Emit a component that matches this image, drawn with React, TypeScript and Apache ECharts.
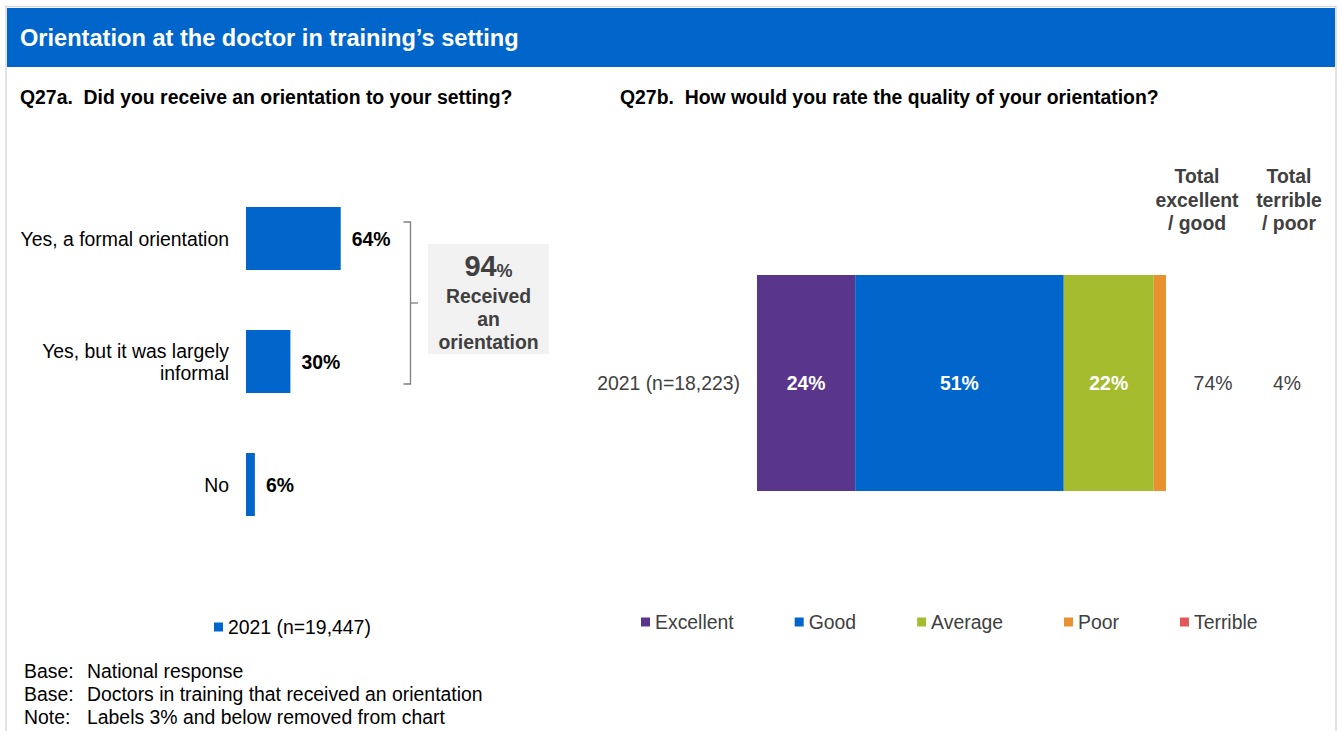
import React, { useEffect, useRef } from 'react';
import * as echarts from 'echarts';

// ---------- data ----------
const pageTitle = 'Orientation at the doctor in training\u2019s setting';
const leftTitle = 'Q27a.\u00a0 Did you receive an orientation to your setting?';
const rightTitle = 'Q27b.\u00a0 How would you rate the quality of your orientation?';

const leftCategories = ['Yes, a formal orientation', 'Yes, but it was largely\ninformal', 'No'];
const leftValues = [64, 30, 6];
const leftSeriesName = '2021 (n=19,447)';
const receivedTotal = 94;
const receivedLabel = 'Received\nan\norientation';

const rightCategories = ['2021 (n=18,223)'];
const ratingNames = ['Excellent', 'Good', 'Average', 'Poor', 'Terrible'];
const ratingValues = [24, 51, 22, 3, 1];
const ratingColors = ['#5A358C', '#0066CC', '#A6BC2F', '#E8922F', '#E05858'];

const totalHeaders = ['Total\nexcellent\n/ good', 'Total\nterrible\n/ poor'];
const totalValues = [74, 4];

const footLabels = ['Base:', 'Base:', 'Note:'];
const footTexts = [
  'National response',
  'Doctors in training that received an orientation',
  'Labels 3% and below removed from chart',
];

// ---------- styling ----------
const FONT = '"Liberation Sans", Arial, Helvetica, sans-serif';
const BLUE = '#0066CC';
const DARK = '#404040';
const FS = 19.4;

const txt = (text: string, x: number, y: number, extra: any = {}) => ({
  type: 'text',
  x,
  y,
  silent: true,
  style: {
    text,
    fontFamily: FONT,
    fontSize: FS,
    fill: '#000',
    align: 'left',
    verticalAlign: 'middle',
    ...extra,
  },
});

function buildOption(): any {
  const totalX = [1197, 1289];
  const totalValX = [1213, 1287];

  const graphic: any[] = [
    {
      type: 'rect',
      silent: true,
      shape: { x: 6, y: 6.5, width: 1330, height: 760 },
      style: { fill: 'none', stroke: '#D9D9D9', lineWidth: 1.5 },
    },
    {
      type: 'rect',
      silent: true,
      shape: { x: 7, y: 8, width: 1328, height: 59 },
      style: { fill: BLUE },
    },
    txt(pageTitle, 20, 38, { fill: '#fff', fontSize: 23.6, fontWeight: 'bold' }),
    txt(leftTitle, 20, 97, { fontWeight: 'bold' }),
    txt(rightTitle, 620, 97, { fontWeight: 'bold' }),
    // bracket
    {
      type: 'polyline',
      silent: true,
      shape: { points: [[403.5, 222], [410.5, 222], [410.5, 384], [403.5, 384]] },
      style: { fill: 'none', stroke: '#7F7F7F', lineWidth: 1.3 },
    },
    {
      type: 'line',
      silent: true,
      shape: { x1: 410.5, y1: 303, x2: 418, y2: 303 },
      style: { stroke: '#7F7F7F', lineWidth: 1.3 },
    },
    {
      type: 'rect',
      silent: true,
      shape: { x: 428, y: 244, width: 121, height: 110 },
      style: { fill: '#F2F2F2' },
    },
    {
      type: 'text',
      x: 488.5,
      y: 266,
      silent: true,
      style: {
        text: `{a|${receivedTotal}}{b|%}`,
        align: 'center',
        verticalAlign: 'middle',
        rich: {
          a: { fontFamily: FONT, fontSize: 29, fontWeight: 'bold', fill: DARK, verticalAlign: 'bottom' },
          b: { fontFamily: FONT, fontSize: 18, fontWeight: 'bold', fill: DARK, verticalAlign: 'bottom', padding: [0, 0, 1, 0] },
        },
      },
    },
    txt(receivedLabel, 488.5, 319, {
      fill: DARK,
      fontWeight: 'bold',
      align: 'center',
      lineHeight: 23,
    }),
  ];

  totalHeaders.forEach((h, i) => {
    graphic.push(
      txt(h, totalX[i], 199.5, { fill: DARK, fontWeight: 'bold', align: 'center', lineHeight: 23.5 })
    );
  });
  totalValues.forEach((v, i) => {
    graphic.push(txt(`${v}%`, totalValX[i], 383, { fill: DARK, align: 'center' }));
  });
  footLabels.forEach((l, i) => {
    graphic.push(txt(l, 24, 671 + i * 23, {}));
    graphic.push(txt(footTexts[i], 87, 671 + i * 23, {}));
  });

  const rightSeries = ratingNames.map((name, i) => ({
    name,
    type: 'bar',
    stack: 'rating',
    xAxisIndex: 1,
    yAxisIndex: 1,
    barWidth: '100%',
    clip: true,
    data: [ratingValues[i]],
    itemStyle: { color: ratingColors[i] },
    label: {
      show: true,
      position: 'inside',
      formatter: (p: any) => (p.value > 3 ? `${p.value}%` : ''),
      color: '#fff',
      fontFamily: FONT,
      fontSize: FS,
      fontWeight: 'bold',
    },
  }));

  return {
    animation: false,
    backgroundColor: '#fff',
    textStyle: { fontFamily: FONT },
    graphic,
    legend: [
      {
        data: [leftSeriesName],
        left: 209,
        top: 611,
        itemWidth: 9,
        itemHeight: 9,
        icon: 'rect',
        selectedMode: false,
        textStyle: { fontFamily: FONT, fontSize: FS, color: '#000', lineHeight: 22 },
      },
      {
        data: ratingNames,
        left: 636,
        top: 606,
        itemWidth: 9,
        itemHeight: 9,
        itemGap: 61,
        icon: 'rect',
        selectedMode: false,
        textStyle: { fontFamily: FONT, fontSize: FS, color: DARK, lineHeight: 22 },
      },
    ],
    grid: [
      { left: 246, top: 177, width: 148, height: 369 },
      { left: 757, top: 275, width: 409, height: 216 },
    ],
    xAxis: [
      { type: 'value', gridIndex: 0, min: 0, max: 100, show: false },
      { type: 'value', gridIndex: 1, min: 0, max: 100, show: false },
    ],
    yAxis: [
      {
        type: 'category',
        gridIndex: 0,
        inverse: true,
        data: leftCategories,
        axisLine: { show: false },
        axisTick: { show: false },
        axisLabel: {
          margin: 17,
          fontFamily: FONT,
          fontSize: FS,
          color: '#000',
          lineHeight: 22,
          align: 'right',
        },
      },
      {
        type: 'category',
        gridIndex: 1,
        data: rightCategories,
        axisLine: { show: false },
        axisTick: { show: false },
        axisLabel: { margin: 17, fontFamily: FONT, fontSize: FS, color: DARK },
      },
    ],
    series: [
      {
        name: leftSeriesName,
        type: 'bar',
        xAxisIndex: 0,
        yAxisIndex: 0,
        barWidth: 63,
        data: leftValues,
        itemStyle: { color: BLUE },
        label: {
          show: true,
          position: 'right',
          distance: 11,
          formatter: '{c}%',
          color: '#000',
          fontFamily: FONT,
          fontSize: FS,
          fontWeight: 'bold',
        },
      },
      ...rightSeries,
    ],
  };
}

export default function App() {
  const ref = useRef<HTMLDivElement>(null);
  useEffect(() => {
    if (!ref.current) return;
    const chart = echarts.init(ref.current, null, { renderer: 'svg' });
    chart.setOption(buildOption());
    return () => chart.dispose();
  }, []);
  return (
    <div
      ref={ref}
      style={{ position: 'absolute', left: 0, top: 0, width: 1342, height: 731, background: '#fff' }}
    />
  );
}
